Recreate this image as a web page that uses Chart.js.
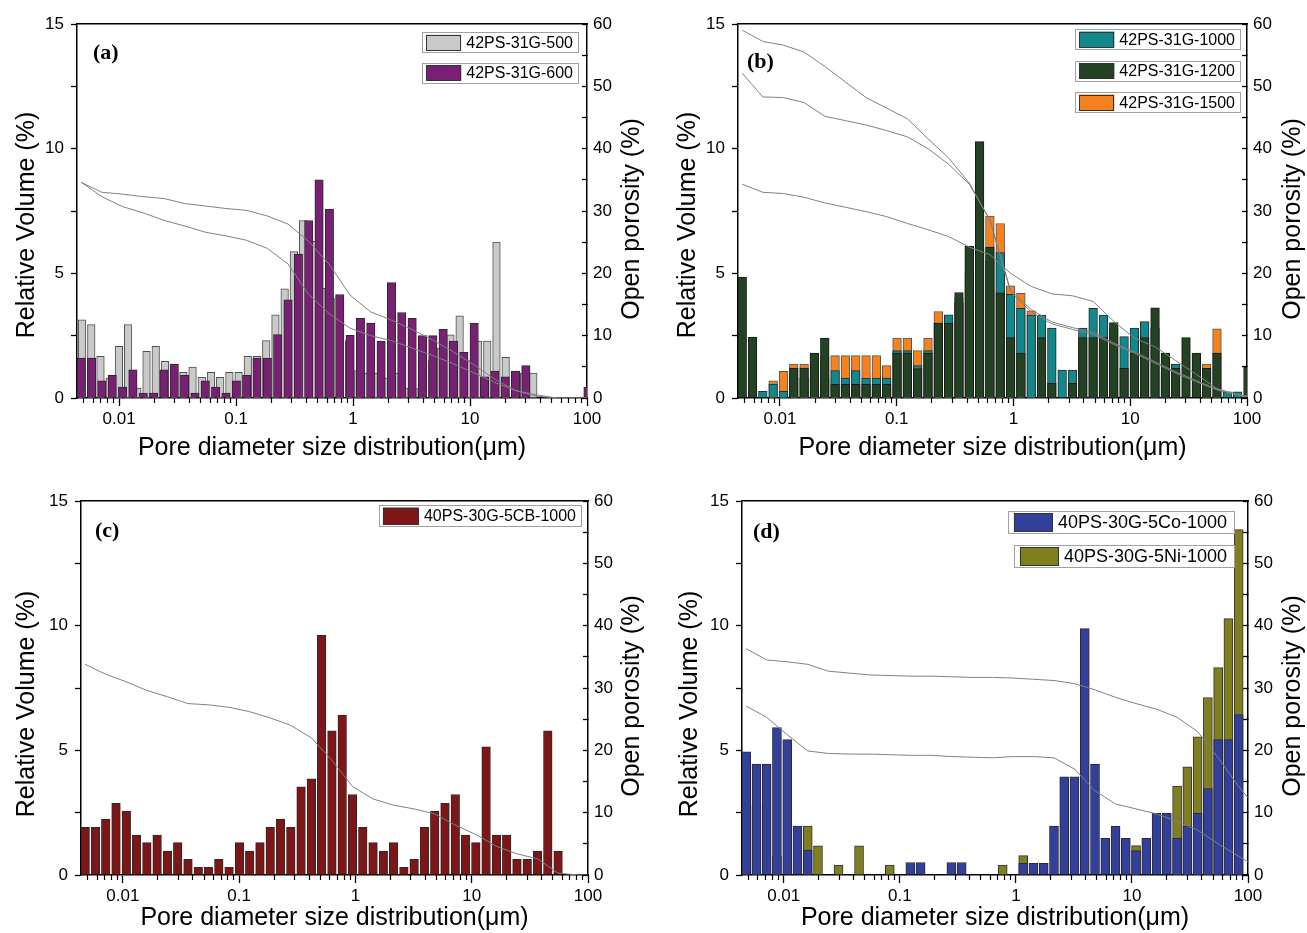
<!DOCTYPE html>
<html><head><meta charset="utf-8">
<script src="https://cdn.jsdelivr.net/npm/chart.js@4.4.1/dist/chart.umd.min.js"></script>
<style>
html,body{margin:0;padding:0;background:#fff;}
#wrap{position:relative;width:1307px;height:933px;overflow:hidden;background:#fff;}
canvas{position:absolute;}
</style></head><body>
<div id="wrap">
<canvas id="pa" width="653" height="466" style="left:0;top:0"></canvas>
<canvas id="pb" width="654" height="466" style="left:653px;top:0"></canvas>
<canvas id="pc" width="653" height="467" style="left:0;top:466px"></canvas>
<canvas id="pd" width="654" height="467" style="left:653px;top:466px"></canvas>
</div>
<script>
// ---------- categories (pore diameter bins, µm) ----------
const diam = [0.00475,0.00582,0.00713,0.00874,0.01072,0.01313,0.01610,0.01973,0.02419,0.02965,
  0.03634,0.04455,0.0546,0.0669,0.0820,0.1006,0.1233,0.1511,0.1852,0.2270,
  0.2783,0.3411,0.4181,0.5125,0.6281,0.770,0.944,1.157,1.418,1.738,
  2.130,2.611,3.201,3.923,4.808,5.894,7.225,8.856,10.85,13.30,
  16.31,19.99,24.50,30.03,36.81,45.12,55.31,67.79,83.10,101.9];
const diamAlt = [0.004827,0.005787,0.006937,0.008316,0.009968,0.011948,0.014322,0.017169,0.02058,0.02467,
  0.02957,0.03545,0.04249,0.05094,0.06106,0.07318,0.08773,0.10517,0.12608,0.15114,
  0.18118,0.2172,0.2603,0.3121,0.3741,0.4485,0.5375,0.6444,0.7725,0.926,
  1.110,1.330,1.595,1.912,2.292,2.747,3.294,3.948,4.733,5.673,
  6.801,8.152,9.770,11.72,14.05,16.83,20.18,24.19,29.00,34.75];
const curveD = [0.00475,0.00713,0.01072,0.01610,0.02419,0.03634,0.0546,0.0820,0.1233,0.1852,
  0.2783,0.4181,0.6281,0.944,1.418,2.130,3.201,4.808,7.225,10.85,16.31,24.50,36.81,55.31,83.10,100];

// ---------- tick labels ----------
const xMajorTicks = [0.01,0.1,1,10,100];
const xMajorLabels = ['0.01','0.1','1','10','100'];
const xMinorTicks = [0.005,0.006,0.007,0.008,0.009,0.02,0.03,0.04,0.05,0.06,0.07,0.08,0.09,
  0.2,0.3,0.4,0.5,0.6,0.7,0.8,0.9,2,3,4,5,6,7,8,9,20,30,40,50,60,70,80,90];
const yTicks = [0,2.5,5,7.5,10,12.5,15];
const yLabels = ['0','','5','','10','','15'];
const y2Ticks = [0,5,10,15,20,25,30,35,40,45,50,55,60];
const y2Labels = ['0','','10','','20','','30','','40','','50','','60'];

// ---------- series: relative volume (%) ----------
const a500 = [3.14,2.94,1.67,0.80,2.07,2.94,0.40,1.87,2.07,1.47,1.20,1.03,1.24,0.83,1.03,0.83,1.03,1.03,1.67,1.67,
  2.30,3.34,4.38,5.87,7.12,6.28,4.40,4.00,3.00,2.30,1.10,1.00,1.00,0.80,1.00,0.40,0.40,1.00,1.50,2.00,
  2.53,3.30,1.50,2.28,2.28,6.25,1.63,0.80,1.00,1.00];
const a600 = [1.60,1.60,0.69,0.91,0.44,1.13,0.20,0.20,1.13,1.36,0.91,0.20,0.69,0.44,0.20,0.69,0.91,1.60,1.60,2.54,
  3.94,5.77,7.12,8.75,7.58,4.15,2.51,3.20,3.00,2.28,4.63,3.43,3.20,2.50,2.50,2.75,2.28,1.83,3.00,0.85,
  1.08,0.85,1.08,1.30,null,null,null,null,null,0.43];
const b1000 = [null,null,0.27,0.56,0.27,0.8,0.8,0.8,0.8,1.1,0.8,1.1,0.8,0.8,0.8,1.9,1.9,1.3,1.9,3.0,
  3.34,3.8,5.0,6.0,5.5,5.83,4.16,3.6,3.33,3.33,2.8,1.12,1.12,2.8,3.6,3.33,2.8,2.46,2.8,3.06,
  2.8,1.0,1.36,null,null,null,null,0.25,0.25,null];
const b1200 = [4.85,2.43,null,null,null,1.2,1.2,1.8,2.4,0.55,0.55,0.55,0.55,0.55,0.55,1.8,1.8,1.18,1.8,3.0,
  3.0,4.23,6.08,10.28,6.05,4.22,2.42,1.8,null,2.42,0.59,null,0.59,2.42,2.42,2.42,3.02,1.19,1.8,2.42,
  3.62,1.8,1.19,2.42,1.8,1.19,1.8,null,null,1.23];
const b1500 = [null,null,null,0.69,1.07,1.36,1.36,1.7,1.7,1.7,1.7,1.7,1.7,1.7,1.3,2.4,2.4,1.9,2.4,3.47,
  3.2,4.0,6.0,7.2,7.3,7.0,4.5,4.2,3.5,null,null,null,null,null,null,null,null,null,null,null,
  null,null,null,null,null,1.36,2.77,null,null,null];
const c5CB = [1.91,1.91,2.24,2.87,2.56,1.60,1.30,1.60,0.96,1.30,0.63,0.31,0.31,0.63,0.31,1.30,0.96,1.30,1.91,2.24,
  1.91,3.54,3.86,9.61,5.78,6.41,3.23,1.91,1.30,0.96,1.30,0.31,0.63,1.91,2.56,2.87,3.23,1.60,1.30,5.14,
  1.60,1.60,0.63,0.63,0.96,5.78,0.96];
const dCo = [4.94,4.45,4.45,5.91,5.43,1.96,1.0,null,null,null,null,null,null,null,null,null,0.5,0.5,null,null,
  0.5,0.5,null,null,null,null,null,0.47,0.47,0.47,1.96,3.94,3.94,9.88,4.45,1.47,1.96,1.47,0.98,1.47,
  2.47,2.47,1.47,1.96,2.47,3.47,5.43,5.43,6.43];
const dNi = [2.35,2.8,null,0.75,null,null,1.96,1.17,null,0.4,null,1.17,null,null,0.4,null,null,null,null,null,
  null,null,null,null,null,0.4,null,0.78,null,null,null,null,null,null,null,null,null,null,1.18,null,
  null,null,3.57,4.34,5.54,7.12,8.32,10.28,13.85];

// ---------- series: open porosity (%) curves ----------
const aCurve1 = [34.6,33.0,32.7,32.3,32.0,31.2,30.8,30.4,30.1,29.2,27.9,25.1,21.4,16.5,13.8,12.5,11.0,9.3,7.4,5.3,3.0,1.2,0.3,0,0,0];
const aCurve2 = [34.6,32.3,30.7,29.7,28.5,27.6,26.6,26.0,25.3,24.0,21.5,16.6,13.5,11.2,10.0,9.2,8.0,6.8,5.5,4.0,2.5,1.2,0.5,0,0,0];
const bCurve1 = [59.0,57.2,56.6,55.5,53.2,50.7,48.2,46.5,44.8,41.6,38.5,34.5,28.5,17.3,14.2,12.2,11.3,10.5,8.8,7.4,5.8,4.2,2.8,1.4,0.6,0.3];
const bCurve2 = [52.1,48.3,48.2,47.4,45.2,44.5,43.8,42.9,41.9,40.0,37.5,34.3,28.6,17.0,13.8,11.9,11.0,10.2,8.6,7.2,5.6,4.0,2.6,1.3,0.5,0.3];
const bCurve3 = [34.3,33.0,32.8,32.2,31.3,30.6,29.9,29.1,28.0,27.0,25.9,24.2,23.0,20.0,17.9,16.7,16.4,15.5,12.3,9.6,8.2,6.0,3.8,1.5,0.5,0.2];
const cCurve = [33.8,32.2,31.0,29.6,28.6,27.5,27.3,26.9,26.2,25.2,24.0,22.0,18.4,14.2,12.2,11.2,10.6,9.8,8.0,6.5,4.6,3.4,2.6,0.3,0,0];
const dCurve1 = [36.3,34.5,34.2,33.8,32.7,32.4,32.1,32.0,31.9,31.9,31.8,31.7,31.7,31.6,31.4,31.2,30.7,29.7,28.5,27.5,26.6,25.3,23.0,18.8,14.2,12.4];
const dCurve2 = [27.1,25.3,22.5,19.9,19.5,19.4,19.4,19.3,19.2,19.2,19.0,18.9,18.8,19.0,19.0,18.8,17.0,13.5,11.4,10.6,9.8,8.6,7.2,5.0,3.0,2.1];

// ---------- rendering ----------
const FONT = "'Liberation Sans', Arial, Helvetica, sans-serif";
const SERIF = "'Liberation Serif', 'Times New Roman', serif";
Chart.defaults.font.family = FONT;
Chart.defaults.color = '#000';
const X_MIN = 0.00437, X_MAX = 100;

function pts(xs, ys) {
  const out = [];
  for (let i = 0; i < xs.length; i++) if (ys[i] != null) out.push({x: xs[i], y: ys[i]});
  return out;
}

function makePanel(id, p) {
  const datasets = [];
  p.curves.forEach(c => datasets.push({
    type: 'line', label: '', data: pts(curveD, c), borderColor: '#808080', borderWidth: 1,
    pointRadius: 0, fill: false, tension: 0, yAxisID: 'y2', xAxisID: 'x', order: 0
  }));
  p.bars.forEach((b, i) => datasets.push({
    type: 'bar', label: b.label, data: pts(b.xs, b.ys), backgroundColor: b.color, borderColor: b.border,
    borderWidth: 1, barThickness: b.w, grouped: false, yAxisID: 'y', xAxisID: 'x', order: i + 1
  }));

  const axisBorder = {color: '#000', width: 1.5};
  const overlay = {
    id: 'overlay_' + id,
    afterDraw(chart) {
      const ctx = chart.ctx, ca = chart.chartArea;
      ctx.save();
      // panel letter
      ctx.font = 'bold 22px ' + SERIF;
      ctx.fillStyle = '#000'; ctx.textAlign = 'left'; ctx.textBaseline = 'middle';
      ctx.fillText(p.letter, ca.left + p.letterDX, ca.top + p.letterDY);
      // legend boxes
      const L = p.leg;
      ctx.font = L.font + 'px ' + FONT;
      let top = ca.top + L.top;
      L.items.forEach(lbl => {
        const ds = chart.data.datasets.find(d => d.label === lbl);
        const tw = ctx.measureText(lbl).width;
        const w = L.padL + L.swW + L.gap + tw + L.padR;
        const right = ca.right - L.right, left = right - w;
        ctx.fillStyle = '#fff'; ctx.fillRect(left, top, w, L.h);
        ctx.strokeStyle = '#a0a0a0'; ctx.lineWidth = 1;
        ctx.strokeRect(Math.round(left) + 0.5, Math.round(top) + 0.5, Math.round(w) - 1, L.h - 1);
        const sy = top + (L.h - L.swH) / 2;
        ctx.fillStyle = ds.backgroundColor; ctx.fillRect(left + L.padL, sy, L.swW, L.swH);
        ctx.strokeStyle = '#333'; ctx.strokeRect(Math.round(left + L.padL) + 0.5, Math.round(sy) + 0.5, L.swW - 1, L.swH - 1);
        ctx.fillStyle = '#000'; ctx.textAlign = 'left'; ctx.textBaseline = 'middle';
        ctx.fillText(lbl, left + L.padL + L.swW + L.gap, top + L.h / 2 + 1);
        top += L.step;
      });
      // vertical axis titles (both read bottom-to-top)
      ctx.font = '25px ' + FONT; ctx.textAlign = 'center'; ctx.textBaseline = 'middle'; ctx.fillStyle = '#000';
      [['Relative Volume (%)', p.yT[0], p.yT[1]], ['Open porosity (%)', p.y2T[0], p.y2T[1]]].forEach(t => {
        ctx.save(); ctx.translate(t[1], t[2]); ctx.rotate(-Math.PI / 2); ctx.fillText(t[0], 0, 0); ctx.restore();
      });
      ctx.restore();
    }
  };

  return new Chart(document.getElementById(id), {
    type: 'bar',
    data: {datasets},
    plugins: [overlay],
    options: {
      responsive: false, animation: false, devicePixelRatio: 1,
      layout: {padding: 0},
      plugins: {legend: {display: false}, tooltip: {enabled: false}, title: {display: false}},
      scales: {
        xMinor: {
          type: 'logarithmic', position: 'bottom', weight: 0, min: X_MIN, max: X_MAX, offset: false,
          afterBuildTicks: s => { s.ticks = xMinorTicks.map(v => ({value: v})); },
          ticks: {display: false},
          grid: {drawOnChartArea: false, offset: false, tickLength: 5, color: '#000', tickWidth: 1.2},
          border: {display: false},
          afterFit: s => { s.height = 0; }
        },
        x: {
          type: 'logarithmic', position: 'bottom', weight: 1, min: X_MIN, max: X_MAX, offset: false,
          afterBuildTicks: s => { s.ticks = xMajorTicks.map(v => ({value: v})); },
          ticks: {callback: (v, i) => xMajorLabels[i], font: {size: 17}, color: '#000', padding: 3, autoSkip: false, maxRotation: 0},
          grid: {drawOnChartArea: false, offset: false, tickLength: 8, color: '#000', tickWidth: 1.3},
          border: axisBorder,
          title: {display: true, text: 'Pore diameter size distribution(μm)', font: {size: 25}, color: '#000', padding: {top: 0, bottom: p.xTitlePad}},
          afterFit: s => { s.height = p.box.bottom; }
        },
        xTop: {
          type: 'logarithmic', position: 'top', min: X_MIN, max: X_MAX, offset: false,
          ticks: {display: false}, grid: {display: false, offset: false}, border: axisBorder,
          afterFit: s => { s.height = p.box.top; }
        },
        y: {
          type: 'linear', position: 'left', min: 0, max: 15,
          afterBuildTicks: s => { s.ticks = yTicks.map(v => ({value: v})); },
          ticks: {callback: (v, i) => yLabels[i], font: {size: 17}, color: '#000', padding: 7, autoSkip: false},
          grid: {drawOnChartArea: false, tickLength: 6, color: '#000', tickWidth: 1.3},
          border: axisBorder,
          afterFit: s => { s.width = p.box.left; }
        },
        y2: {
          type: 'linear', position: 'right', min: 0, max: 60,
          afterBuildTicks: s => { s.ticks = y2Ticks.map(v => ({value: v})); },
          ticks: {callback: (v, i) => y2Labels[i], font: {size: 17}, color: '#000', padding: 11, autoSkip: false},
          grid: {drawOnChartArea: false, tickLength: -5, color: '#000', tickWidth: 1.3},
          border: axisBorder,
          afterFit: s => { s.width = p.box.right; }
        }
      }
    }
  });
}

const legSmall = {font: 16, padL: 4, swW: 35, swH: 16, gap: 5, padR: 6, h: 21};

makePanel('pa', {
  box: {left: 77, right: 66, top: 24, bottom: 68}, xTitlePad: 3,
  letter: '(a)', letterDX: 16, letterDY: 29,
  yT: [27, 225], y2T: [632, 219],
  leg: Object.assign({}, legSmall, {items: ['42PS-31G-500', '42PS-31G-600'], right: 8, top: 8, step: 30.5}),
  curves: [aCurve1, aCurve2],
  bars: [
    {label: '42PS-31G-600', xs: diam, ys: a600, color: '#7a2074', border: '#2a2a2a', w: 8.4},
    {label: '42PS-31G-500', xs: diamAlt, ys: a500, color: '#c9c9c9', border: '#505050', w: 7.6}
  ]
});

makePanel('pb', {
  box: {left: 85, right: 60, top: 24, bottom: 68}, xTitlePad: 3,
  letter: '(b)', letterDX: 9, letterDY: 38,
  yT: [35, 225], y2T: [640, 219],
  leg: Object.assign({}, legSmall, {items: ['42PS-31G-1000', '42PS-31G-1200', '42PS-31G-1500'], right: 6, top: 5, step: 31.5}),
  curves: [bCurve1, bCurve2, bCurve3],
  bars: [
    {label: '42PS-31G-1200', xs: diam, ys: b1200, color: '#234223', border: '#1a1a1a', w: 8.7},
    {label: '42PS-31G-1000', xs: diam, ys: b1000, color: '#12878c', border: '#2a2a2a', w: 8.7},
    {label: '42PS-31G-1500', xs: diam, ys: b1500, color: '#f5821f', border: '#555', w: 8.7}
  ]
});

makePanel('pc', {
  box: {left: 81, right: 65, top: 35, bottom: 58}, xTitlePad: 0,
  letter: '(c)', letterDX: 14, letterDY: 30,
  yT: [27, 238], y2T: [632, 230],
  leg: Object.assign({}, legSmall, {items: ['40PS-30G-5CB-1000'], right: 6, top: 4, step: 31, h: 22, swW: 36, swH: 17}),
  curves: [cCurve],
  bars: [
    {label: '40PS-30G-5CB-1000', xs: diam, ys: c5CB, color: '#7e1618', border: '#2a2a2a', w: 8.6}
  ]
});

makePanel('pd', {
  box: {left: 89, right: 59, top: 35, bottom: 58}, xTitlePad: 0,
  letter: '(d)', letterDX: 11, letterDY: 31,
  yT: [37, 238], y2T: [640, 230],
  leg: {font: 18, padL: 6, swW: 39, swH: 19, gap: 5, padR: 8, h: 23, items: ['40PS-30G-5Co-1000', '40PS-30G-5Ni-1000'], right: 13, top: 10, step: 34},
  curves: [dCurve1, dCurve2],
  bars: [
    {label: '40PS-30G-5Co-1000', xs: diam, ys: dCo, color: '#323f9b', border: '#2a2a2a', w: 9},
    {label: '40PS-30G-5Ni-1000', xs: diam, ys: dNi, color: '#7f7f22', border: '#333', w: 9}
  ]
});
</script>
</body></html>
